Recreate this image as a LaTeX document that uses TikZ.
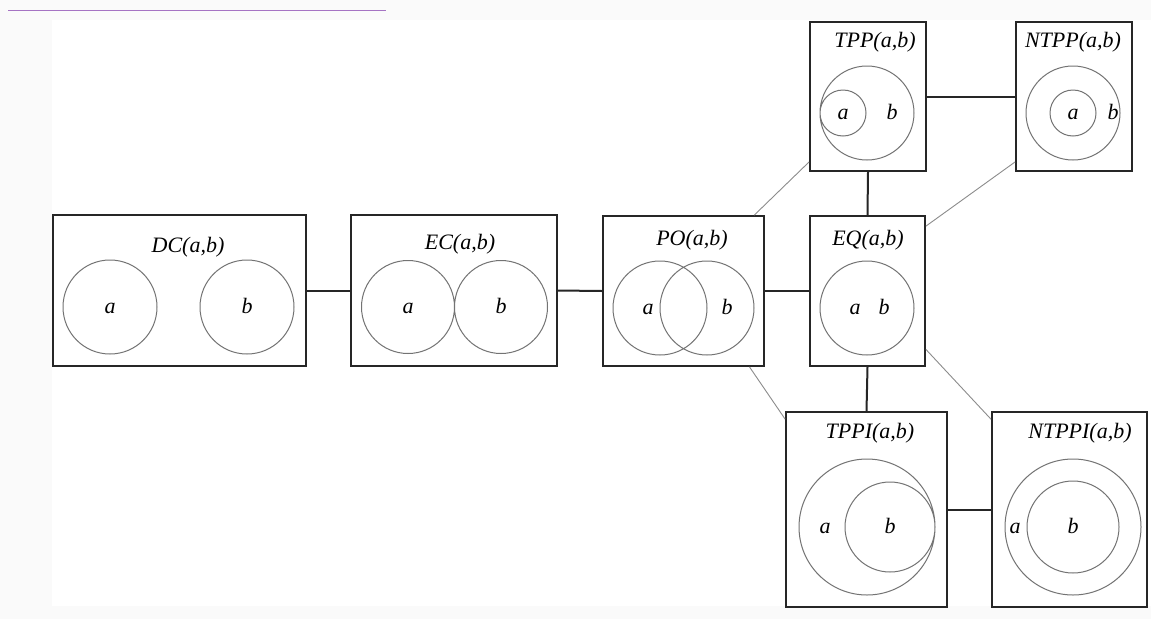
\documentclass[tikz,border=0pt]{standalone}
\usepackage{fontspec}
\setmainfont{Liberation Serif}
\begin{document}
\begin{tikzpicture}[x=1pt,y=-1pt,
  relbox/.style={draw=black!85,line width=1.8pt,rectangle,inner sep=0pt},
  region/.style={draw=black!55,line width=1pt},
  ttl/.style={font=\fontsize{22}{26}\selectfont\itshape,inner sep=0pt},
  lbl/.style={font=\fontsize{22}{26}\selectfont\itshape,inner sep=0pt,anchor=base},
  link/.style={draw=black!85,line width=2pt},
  weak/.style={draw=black!45,line width=0.9pt}]
\useasboundingbox (0,0) rectangle (1151,619);
% page backdrop
\fill[black!2] (0,0) rectangle (1151,619);
\fill[white] (52,20) rectangle (1151,606);
\draw[draw={rgb,255:red,165;green,115;blue,195},line width=1.5pt] (8,10.5) -- (386,10.5);

% relation boxes
\node[relbox,minimum width=253pt,minimum height=151pt] (dc) at (179.5,290.5) {};
\node[relbox,minimum width=206pt,minimum height=151pt] (ec) at (454,290.5) {};
\node[relbox,minimum width=161pt,minimum height=150pt] (po) at (683.5,291) {};
\node[relbox,minimum width=115pt,minimum height=150pt] (eq) at (867.5,291) {};
\node[relbox,minimum width=116pt,minimum height=149pt] (tpp) at (868,96.5) {};
\node[relbox,minimum width=116pt,minimum height=149pt] (ntpp) at (1074,96.5) {};
\node[relbox,minimum width=161pt,minimum height=195pt] (tppi) at (866.5,509.5) {};
\node[relbox,minimum width=155pt,minimum height=195pt] (ntppi) at (1069.5,509.5) {};

% titles
\node[ttl] (tdc) at (188,247) {DC(a,b)};
\node[ttl] (tec) at (460,244) {EC(a,b)};
\node[ttl] (tpo) at (692,240) {PO(a,b)};
\node[ttl] (teq) at (868,240) {EQ(a,b)};
\node[ttl] (ttpp) at (875,42) {TPP(a,b)};
\node[ttl] (tntpp) at (1073,42) {NTPP(a,b)};
\node[ttl] (ttppi) at (870,433) {TPPI(a,b)};
\node[ttl] (tntppi) at (1080,433) {NTPPI(a,b)};

% regions a and b
\draw[region] (110,307) circle (47) (247,307) circle (47);
\node[lbl] (dca) at (110,313) {a};
\node[lbl] (dcb) at (247,313) {b};

\draw[region] (408,307) circle (46.5) (501,307) circle (46.5);
\node[lbl] (eca) at (408,313) {a};
\node[lbl] (ecb) at (501,313) {b};

\draw[region] (660,308) circle (47) (707,308) circle (47);
\node[lbl] (poa) at (648,314) {a};
\node[lbl] (pob) at (727,314) {b};

\draw[region] (867,308) circle (47);
\node[lbl] (eqa) at (855,314) {a};
\node[lbl] (eqb) at (884,314) {b};

\draw[region] (867,113) circle (47) (843,113) circle (23);
\node[lbl] (tppa) at (843,119) {a};
\node[lbl] (tppb) at (892,119) {b};

\draw[region] (1073,113) circle (47) (1073,113) circle (23);
\node[lbl] (ntppa) at (1073,119) {a};
\node[lbl] (ntppb) at (1113,119) {b};

\draw[region] (867,527) circle (68) (890,527) circle (45);
\node[lbl] (tppia) at (825,533) {a};
\node[lbl] (tppib) at (890,533) {b};

\draw[region] (1073,527) circle (68) (1073,527) circle (46);
\node[lbl] (ntppia) at (1015,533) {a};
\node[lbl] (ntppib) at (1073,533) {b};

% neighbourhood links
\draw[link] (dc.east) -- (ec.west);
\draw[link] (ec.east) -- (po.west);
\draw[link] (po.east) -- (eq.west);
\draw[link] (eq.north) -- (tpp.south);
\draw[link] (eq.south) -- (tppi.north);
\draw[link] (tpp.east) -- (ntpp.west);
\draw[link] (tppi.east) -- (ntppi.west);

% secondary links
\draw[weak] (po.47) -- (tpp.228);
\draw[weak] (eq.48.5) -- (ntpp.228);
\draw[weak] (po.-49.3) -- (tppi.132);
\draw[weak] (eq.-45.2) -- (ntppi.131);
\end{tikzpicture}
\end{document}
